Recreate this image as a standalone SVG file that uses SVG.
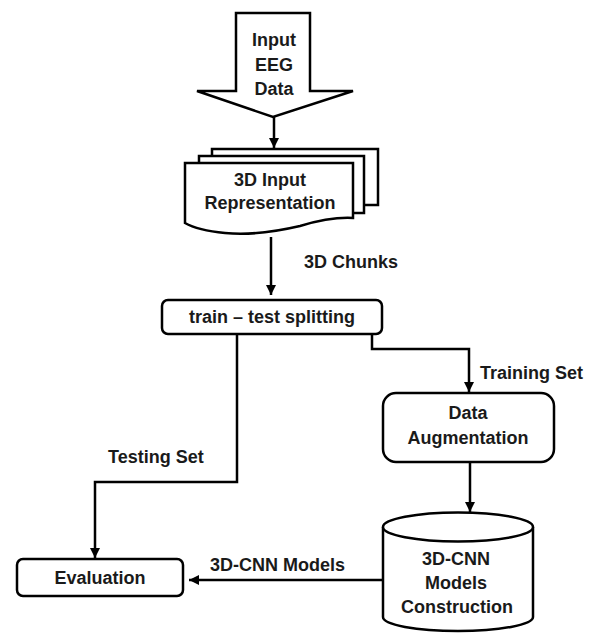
<svg xmlns="http://www.w3.org/2000/svg" width="594" height="633" viewBox="0 0 594 633">
<style>
.s{fill:#fff;stroke:#000;stroke-width:2.5}
.c{fill:none;stroke:#000;stroke-width:2.5}
text{font-family:"Liberation Sans",Arial,sans-serif;font-weight:bold;font-size:18px;fill:#1a1a1a;text-anchor:middle;dominant-baseline:central}
.l{text-anchor:start}
</style>
<defs>
<marker id="ah" viewBox="0 0 10 10" refX="10" refY="5" markerWidth="4" markerHeight="4" orient="auto" markerUnits="strokeWidth">
<path d="M0,0 L10,5 L0,10 Z" fill="#000"/>
</marker>
</defs>
<rect width="594" height="633" fill="#fff"/>
<g id="input">
<polygon class="s" points="236,13 310,13 310,91 353,91 273,117 197,91 236,91"/>
<text x="274" y="40">Input</text>
<text x="274" y="65">EEG</text>
<text x="274" y="89">Data</text>
</g>
<g id="representation">
<rect class="s" x="212" y="149" width="166" height="56"/>
<rect class="s" x="199" y="156" width="165" height="57"/>
<path class="s" d="M185,163 H353 V218 C335,217 320,220 300,226 C270,233 245,235 225,233 C205,231 192,227 185,223 Z"/>
<text x="270" y="180">3D Input</text>
<text x="270" y="203">Representation</text>
</g>
<g id="splitting">
<rect class="s" x="162" y="300" width="220" height="34" rx="6"/>
<text x="272" y="317">train – test splitting</text>
</g>
<g id="augmentation">
<rect class="s" x="383" y="393" width="171" height="69" rx="13"/>
<text x="468" y="413">Data</text>
<text x="468" y="438">Augmentation</text>
</g>
<g id="cnn">
<path class="s" d="M383,527 V617 A75,14 0 0 0 533,617 V527"/>
<ellipse class="s" cx="458" cy="527" rx="75" ry="14.5"/>
<text x="456" y="559">3D-CNN</text>
<text x="456" y="583">Models</text>
<text x="457" y="607">Construction</text>
</g>
<g id="evaluation">
<rect class="s" x="17" y="559" width="166" height="37" rx="6"/>
<text x="100" y="578">Evaluation</text>
</g>
<g id="connectors">
<path class="c" d="M274,117 V148" marker-end="url(#ah)"/>
<path class="c" d="M271,237 V295" marker-end="url(#ah)"/>
<path class="c" d="M372,334 V349 H469 V392" marker-end="url(#ah)"/>
<path class="c" d="M237,334 V482 H95 V558" marker-end="url(#ah)"/>
<path class="c" d="M470,462 V512" marker-end="url(#ah)"/>
<path class="c" d="M383,580 H189" marker-end="url(#ah)"/>
<text class="l" x="304" y="262">3D Chunks</text>
<text class="l" x="480" y="373">Training Set</text>
<text class="l" x="108" y="457">Testing Set</text>
<text class="l" x="210" y="565">3D-CNN Models</text>
</g>
</svg>
